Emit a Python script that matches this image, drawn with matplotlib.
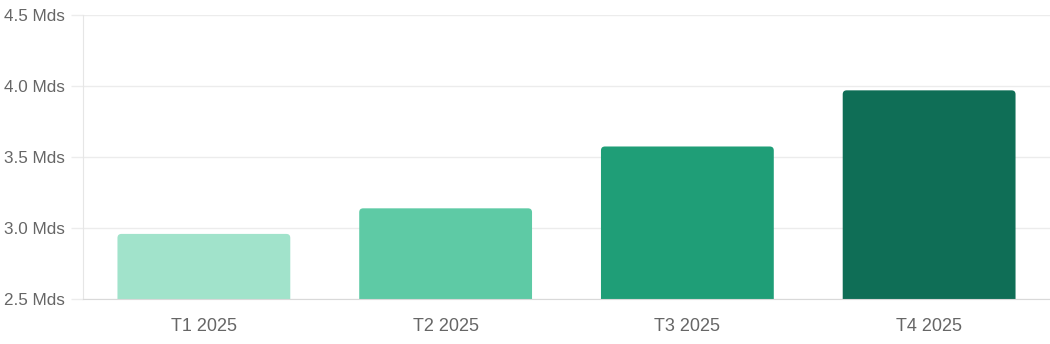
import matplotlib
matplotlib.use("Agg")
import matplotlib.pyplot as plt
from matplotlib.patches import FancyBboxPatch
from matplotlib.ticker import FuncFormatter

categories = ["T1 2025", "T2 2025", "T3 2025", "T4 2025"]
values = [2.96, 3.14, 3.575, 3.97]
colors = ["#a1e3cb", "#5ecaa5", "#1f9e77", "#0f6e56"]
yticks = [2.5, 3.0, 3.5, 4.0, 4.5]

plt.rcParams['font.family'] = ['Liberation Sans', 'DejaVu Sans']

fig = plt.figure(figsize=(10.5, 3.44), dpi=100)
ax = fig.add_axes([83/1050, 1 - 299.3/344, 1 - 83/1050, (299.3 - 15)/344])

x = list(range(len(categories)))
bw = 173/242
bars = ax.bar(x, values, width=bw, color=colors)
ax.set_xlim(-0.5, len(categories) - 0.5)
ax.set_ylim(2.5, 4.5)

# replace bars with rounded-top versions
rx = 4/242
ry = 4 * 0.5/71.1
for b, c in zip(bars, colors):
    b.set_visible(False)
    x0 = b.get_x()
    w = b.get_width()
    top = b.get_height()
    bottom = 2.3
    p = FancyBboxPatch((x0, bottom), w, top - bottom,
                       boxstyle=f"round,pad=0,rounding_size={rx}",
                       mutation_aspect=ry/rx, facecolor=c, edgecolor='none',
                       zorder=2)
    ax.add_patch(p)

ax.set_yticks(yticks)
ax.yaxis.set_major_formatter(FuncFormatter(lambda v, p: f"{v:.1f} Mds"))
ax.set_xticks(x)
ax.set_xticklabels(categories)

ax.grid(axis='y', color='#ececec', linewidth=1, zorder=0)
ax.set_axisbelow(True)
ax.tick_params(axis='y', length=8.6, color='#ececec', width=1, pad=4.3,
               labelcolor='#666666', labelsize=12.3)
ax.tick_params(axis='x', length=0, pad=13.5, labelcolor='#666666', labelsize=13)

for s in ['top', 'right']:
    ax.spines[s].set_visible(False)
ax.spines['left'].set_color('#e6e6e6')
ax.spines['bottom'].set_color('#d9d9d9')
ax.spines['bottom'].set_zorder(3)

fig.savefig("out.png", dpi=100, facecolor='white')
